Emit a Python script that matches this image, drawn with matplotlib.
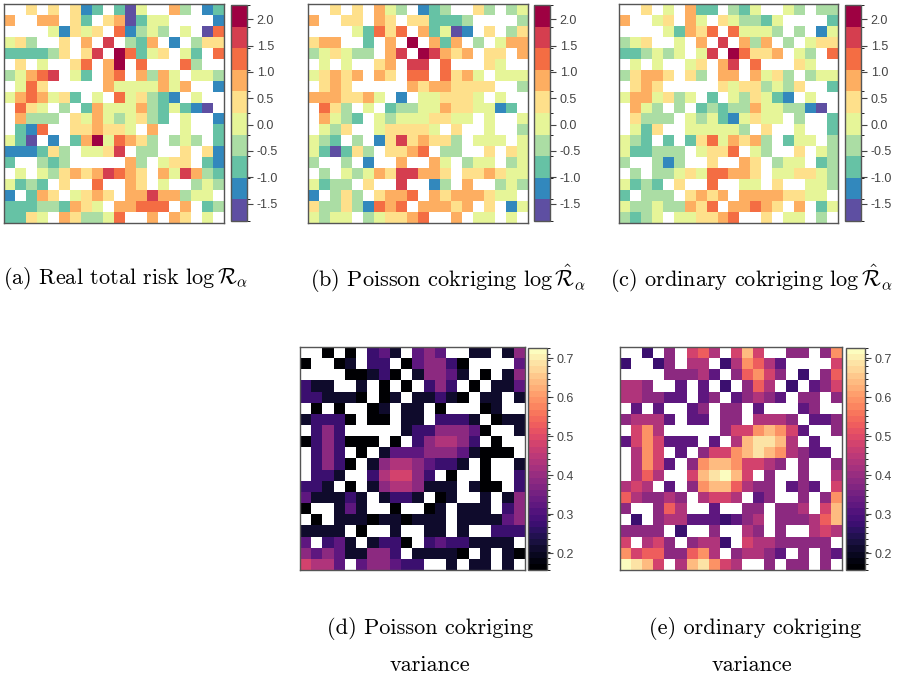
import numpy as np
import matplotlib
matplotlib.use("Agg")
import matplotlib.pyplot as plt
from matplotlib.colors import ListedColormap, BoundaryNorm

# ---------------- data ----------------
# Risk panels (a)-(c): one character per cell, '.' = missing (white).
# Characters 0..9 are colour classes of the 10-class scale; value = class midpoint.
risk_lo, risk_hi = -1.83, 2.27
risk_class_values = {str(k): risk_lo + (k + 0.5) * (risk_hi - risk_lo) / 10 for k in range(10)}

real_risk = [
    "..5.5.512.204..63.12",
    "6..66.52.560244....1",
    "....41545.71343.4.07",
    "453..5.6.8.326.1.355",
    "222235.58.97245.42.7",
    ".5.4..57.69.7...73..",
    "34678.42.67.6364.443",
    ".475.....64444646..1",
    "4676452.4.745321.4..",
    ".754.3.264446324210.",
    ".6333.546434532.4..1",
    ".217..556554.6..4..2",
    "420.1.26947653.343.2",
    "111253.4458.33..5.51",
    "2..323.....63.455.21",
    ".4.4356568765.648632",
    "4232.5..7..65.4..343",
    "1.265.4565.66866344.",
    "222332654.66777.6.23",
    "2254.653347..6.65.4.",
]
poisson_risk = [
    "..5.5.643.123..53.34",
    "6..55.65.552223....3",
    "....42757.62401.5.35",
    "566..2.6.9.626.3.466",
    "345433.68.98656.55.6",
    ".4.4..56.88.7...54..",
    "45656.65.77.7564.444",
    ".565.....65665555..3",
    "6665564.1.445554.4..",
    ".753.4.233446554412.",
    ".6432.434445544.4..4",
    ".435..455554.5..4..3",
    "432.3.15856553.444.4",
    "420253.5567.33..5.54",
    "3..3.1..6..64.344.34",
    ".3.4346588665.556544",
    "4233.5..8..13.6..343",
    "1.353.5667.65666544.",
    "533531767.66656.5.14",
    "4344.345567..6.44.4.",
]
ordinary_risk = [
    "..5.4.622.324..43.33",
    "6..45.64.543324....2",
    "....42657.74443.3.14",
    "345..4.6.8.636.3.455",
    "223434.48.97556.43.7",
    ".4.4..45.68.7...54..",
    "35665.53.66.6453.344",
    ".565.....54553435..2",
    "4664534.2.435421.4..",
    ".643.3.232336443310.",
    ".5333.434214544.3..2",
    ".425..444443.5..4..2",
    "432.2.25746563.244.3",
    "422333.4557.43..5.43",
    "3..313..5..65.344.23",
    ".3.3345477665.445543",
    "4232.5..7..44.5..443",
    "2.333.5656.66665544.",
    "433433657.66765.6.24",
    "3234.445567..5.44.3.",
]

# Variance panels (d)-(e): one character per cell, '.' = missing (white).
var_lo, var_hi = 0.157, 0.726
var_level_values = {"0": 0.17, "1": 0.22, "2": 0.27, "3": 0.33, "4": 0.38, "5": 0.43,
                    "6": 0.48, "7": 0.53, "8": 0.59, "9": 0.64, "a": 0.69, "b": 0.72}
poisson_var = [
    "..0.0.231.343..11.14",
    "0..01.22.034420....3",
    "....00120.14431.0.14",
    "211..1.0.0.242.0.113",
    "221110.01.11210.11.1",
    ".0.0..01.11.0...01..",
    "12220.00.11.2221.011",
    ".242.....12244430..1",
    "0242000.0.245542.0..",
    ".242.0.133344431000.",
    ".2420.145543221.0..1",
    ".221..256642.0..0..2",
    "221.0.14554111.100.2",
    "311121.1221.01..1.14",
    "0..131..0..01.111.24",
    ".0.1110110111.111134",
    "1111.0..1..11.1..222",
    "3.231.1220.23221111.",
    "434311442.11110.1.10",
    "6553.344322..1.11.1.",
]
ordinary_var = [
    "..2.4.675.696..44.48",
    "2..24.55.258753....6",
    "....44453.47864.2.47",
    "554..3.3.2.475.2.346",
    "554433.34.34543.44.4",
    ".3.3..34.44.3...34..",
    "45553.33.44.5554.334",
    ".685.....46689863..4",
    "3686333.3.59aa95.3..",
    ".586.3.46689a985433.",
    ".5863.489986654.4..4",
    ".575..69ab96.4..4..5",
    "565.3.48997544.343.6",
    "754454.5665.34..4.48",
    "4..475..3..44.445.69",
    ".2.4553332345.444579",
    "4444.2..4..54.4..565",
    "6.564.4552.65544444.",
    "867744785.45543.4.43",
    "ba96.59a865..4.44.4.",
]


def parse_grid(rows, mapping):
    out = []
    for r in rows:
        assert len(r) == 20, r
        out.append([mapping.get(ch, np.nan) for ch in r])
    return np.array(out, dtype=float)


# ---------------- style ----------------
plt.rcParams["mathtext.fontset"] = "cm"
plt.rcParams["axes.unicode_minus"] = False

spectral10 = ["#5E4FA2", "#3288BD", "#66C2A5", "#ABDDA4", "#E6F598",
              "#FEE08B", "#FDAE61", "#F46D43", "#D53E4F", "#9E0142"]
risk_cmap = ListedColormap(spectral10)
risk_cmap.set_bad("white")
risk_bounds = np.linspace(risk_lo, risk_hi, 11)
risk_norm = BoundaryNorm(risk_bounds, risk_cmap.N)
risk_ticks = [-1.5, -1.0, -0.5, 0.0, 0.5, 1.0, 1.5, 2.0]

nvar = 36
var_cmap = ListedColormap(plt.get_cmap("magma")(np.linspace(0, 1, nvar)))
var_cmap.set_bad("white")
var_bounds = np.linspace(var_lo, var_hi, nvar + 1)
var_norm = BoundaryNorm(var_bounds, nvar)
var_ticks = [0.2, 0.3, 0.4, 0.5, 0.6, 0.7]

W, H = 898, 679
fig = plt.figure(figsize=(W / 100, H / 100), dpi=100)
fig.patch.set_facecolor("white")


def px_axes(x0, y0, x1, y1):
    return fig.add_axes([x0 / W, 1 - y1 / H, (x1 - x0) / W, (y1 - y0) / H])


frame_col = "#555555"
label_col = "#444444"


def panel(box, cbox, grid, cmap, norm, ticks, fmt):
    ax = px_axes(*box)
    ax.imshow(grid, cmap=cmap, norm=norm, interpolation="nearest", aspect="auto")
    ax.set_xticks([])
    ax.set_yticks([])
    for s in ax.spines.values():
        s.set_color(frame_col)
        s.set_linewidth(1.0)
    cax = px_axes(*cbox)
    sm = matplotlib.cm.ScalarMappable(norm=norm, cmap=cmap)
    cb = fig.colorbar(sm, cax=cax, ticks=ticks, spacing="proportional")
    cb.outline.set_edgecolor(frame_col)
    cb.outline.set_linewidth(1.0)
    cax.tick_params(axis="y", length=4, width=0.8, color=label_col, pad=3,
                    labelsize=9, labelcolor=label_col)
    cax.set_yticklabels([fmt(t) for t in ticks], family="Liberation Sans")
    return ax


rfmt = lambda t: f"{t:.1f}"
panel((4, 4, 224, 223), (231, 5, 247, 221), parse_grid(real_risk, risk_class_values),
      risk_cmap, risk_norm, risk_ticks, rfmt)
panel((308, 4, 528, 223), (534, 5, 550, 221), parse_grid(poisson_risk, risk_class_values),
      risk_cmap, risk_norm, risk_ticks, rfmt)
panel((619, 4, 838, 223), (845, 5, 861, 221), parse_grid(ordinary_risk, risk_class_values),
      risk_cmap, risk_norm, risk_ticks, rfmt)
panel((300, 347, 525, 570), (528, 348, 547, 570), parse_grid(poisson_var, var_level_values),
      var_cmap, var_norm, var_ticks, rfmt)
panel((620, 347, 842, 570), (846, 348, 865, 570), parse_grid(ordinary_var, var_level_values),
      var_cmap, var_norm, var_ticks, rfmt)

cap_kw = dict(ha="center", va="center", fontsize=16, family="serif",
              fontname="cmr10", color="black")


def caption(xc, yc, s):
    fig.text(xc / W, 1 - yc / H, s, **cap_kw)


caption(126, 279, r"(a) Real total risk $\log\mathcal{R}_\alpha$")
caption(448, 279, r"(b) Poisson cokriging $\log\hat{\mathcal{R}}_\alpha$")
caption(751, 279, r"(c) ordinary cokriging $\log\hat{\mathcal{R}}_\alpha$")
caption(430, 628, "(d) Poisson cokriging")
caption(430, 665, "variance")
caption(755, 628, "(e) ordinary cokriging")
caption(752, 665, "variance")

fig.savefig("out.png", dpi=100, facecolor="white")
